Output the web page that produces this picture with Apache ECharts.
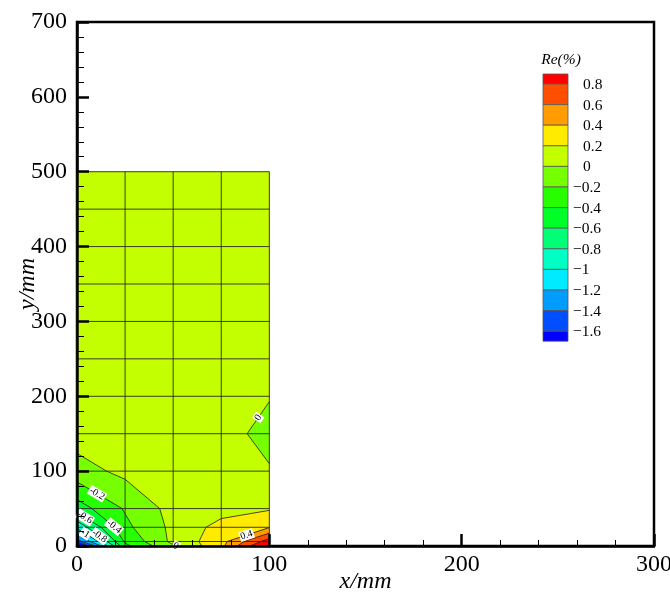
<!DOCTYPE html>
<html>
<head>
<meta charset="utf-8">
<script src="https://cdn.jsdelivr.net/npm/echarts@6/dist/echarts.min.js"></script>
<style>
  html, body { margin: 0; padding: 0; background: #fff; }
  #chart { width: 670px; height: 594px; }
</style>
</head>
<body>
<div id="chart"></div>
<script>
// Mesh node coordinates (mm)
const meshX = [0, 25, 50, 75, 100];
const meshY = [0, 6, 25, 50, 100, 150, 200, 250, 300, 350, 400, 450, 500];

// Re(%) at the mesh nodes, one row per meshY entry, columns follow meshX
const reY0   = [-2.0, -0.45, -0.02, 0.35, 1.10];
const reY6   = [-1.5, -0.37, 0.05, 0.33, 0.90];
const reY25  = [-0.95, -0.25, 0.05, 0.27, 0.39];
const reY50  = [-0.50, -0.18, 0.07, 0.12, 0.18];
const reY100 = [-0.08, 0.05, 0.10, 0.10, 0.015];
const reY150 = [0.088, 0.10, 0.10, 0.07, -0.06];
const reY200 = [0.10, 0.10, 0.10, 0.10, 0.01];
const reY250 = [0.10, 0.10, 0.10, 0.10, 0.09];
const reY300 = [0.10, 0.10, 0.10, 0.10, 0.10];
const reY350 = [0.10, 0.10, 0.10, 0.10, 0.10];
const reY400 = [0.10, 0.10, 0.10, 0.10, 0.10];
const reY450 = [0.10, 0.10, 0.10, 0.10, 0.10];
const reY500 = [0.10, 0.10, 0.10, 0.10, 0.10];
const reRows = [reY0, reY6, reY25, reY50, reY100, reY150, reY200,
                reY250, reY300, reY350, reY400, reY450, reY500];

// Contour levels and the fill colour of each band between them
const levels = [-1.6, -1.4, -1.2, -1, -0.8, -0.6, -0.4, -0.2, 0, 0.2, 0.4, 0.6, 0.8];
const bandColors = ['#0000ff', '#004eff', '#009dff', '#00ebff', '#00ffc4', '#00ff76',
                    '#00ff27', '#27ff00', '#76ff00', '#c4ff00', '#ffeb00', '#ff9d00',
                    '#ff4e00', '#ff0000'];

// Axis ticks
const xTicks = [0, 100, 200, 300];
const yTicks = [0, 100, 200, 300, 400, 500, 600, 700];

// Contour labels: which level, and roughly where along the line to put it
const contourLabels = [
  { level: -0.2, near: [10, 68] },
  { level: -0.6, near: [5, 42] },
  { level: -0.4, near: [20, 28] },
  { level: -0.8, near: [12, 14] },
  { level: -1,   near: [4.5, 17] },
  { level: 0,    near: [52, 2] },
  { level: 0.4,  near: [88, 16] },
  { level: 0,    near: [94, 172] }
];

const serif = '"Liberation Serif", "Times New Roman", serif';

// ---- geometry helpers ----
function cellPoly(i, j) {
  return [
    { x: meshX[i],     y: meshY[j],     v: reRows[j][i] },
    { x: meshX[i + 1], y: meshY[j],     v: reRows[j][i + 1] },
    { x: meshX[i + 1], y: meshY[j + 1], v: reRows[j + 1][i + 1] },
    { x: meshX[i],     y: meshY[j + 1], v: reRows[j + 1][i] }
  ];
}

// Sutherland–Hodgman clip against keep(v) >= 0, linear along the edges
function clipPoly(poly, keep) {
  const out = [];
  for (let k = 0; k < poly.length; k++) {
    const a = poly[k], b = poly[(k + 1) % poly.length];
    const fa = keep(a.v), fb = keep(b.v);
    if (fa >= 0) out.push(a);
    if ((fa >= 0) !== (fb >= 0)) {
      const t = fa / (fa - fb);
      out.push({ x: a.x + t * (b.x - a.x), y: a.y + t * (b.y - a.y), v: a.v + t * (b.v - a.v) });
    }
  }
  return out;
}

function cellSegments(poly, L) {
  const pts = [];
  for (let k = 0; k < 4; k++) {
    const a = poly[k], b = poly[(k + 1) % 4];
    if ((a.v >= L) !== (b.v >= L)) {
      const t = (L - a.v) / (b.v - a.v);
      pts.push([a.x + t * (b.x - a.x), a.y + t * (b.y - a.y)]);
    }
  }
  const segs = [];
  for (let k = 0; k + 1 < pts.length; k += 2) segs.push([pts[k], pts[k + 1]]);
  return segs;
}

// cells
const cells = [];
for (let j = 0; j < meshY.length - 1; j++)
  for (let i = 0; i < meshX.length - 1; i++) cells.push([i, j]);

// contour segments per level
const contourSegs = [];      // [x1, y1, x2, y2, levelIndex]
const segsByLevel = levels.map(() => []);
cells.forEach(([i, j]) => {
  const poly = cellPoly(i, j);
  levels.forEach((L, li) => {
    cellSegments(poly, L).forEach(s => {
      contourSegs.push([s[0][0], s[0][1], s[1][0], s[1][1], li]);
      segsByLevel[li].push(s);
    });
  });
});

// mesh lines
const meshLines = [];
meshY.forEach(y => meshLines.push([meshX[0], y, meshX[meshX.length - 1], y]));
meshX.forEach(x => meshLines.push([x, meshY[0], x, meshY[meshY.length - 1]]));

function fmtLevel(v) {
  return String(Math.round(v * 10) / 10);
}

// ---- colour legend drawn as graphic elements ----
const legLeft = 543, legTop = 74, legW = 25, endH = 10, midH = 20.6;
const legendEls = [];
const nb = bandColors.length;
let yCursor = legTop;
for (let b = nb - 1; b >= 0; b--) {
  const h = (b === nb - 1 || b === 0) ? endH : midH;
  legendEls.push({
    type: 'rect',
    shape: { x: legLeft, y: yCursor, width: legW, height: h },
    style: { fill: bandColors[b], stroke: '#555', lineWidth: 0.8 }
  });
  if (b > 0) {
    const v = levels[b - 1];
    const s = fmtLevel(Math.abs(v));
    legendEls.push({
      type: 'text',
      x: v < 0 ? 573 : 583,
      y: yCursor + h + 1,
      style: {
        text: (v < 0 ? '\u2212' : '') + s,
        fill: '#000', fontSize: 15.5, fontFamily: serif,
        align: 'left', verticalAlign: 'middle'
      }
    });
  }
  yCursor += h;
}
legendEls.push({
  type: 'text', x: 561, y: 60,
  style: { text: 'Re(%)', fill: '#000', fontSize: 15.5, fontFamily: serif,
           fontStyle: 'italic', align: 'center', verticalAlign: 'middle' }
});

const option = {
  animation: false,
  backgroundColor: '#fff',
  grid: { left: 77, right: 16, top: 22, bottom: 48, show: true, outerBoundsMode: 'none',
          containLabel: false,
          borderColor: '#000', borderWidth: 2.5, backgroundColor: 'transparent' },
  xAxis: {
    type: 'value', min: xTicks[0], max: xTicks[xTicks.length - 1],
    interval: xTicks[1] - xTicks[0], z: 10,
    axisLine: { show: true, onZero: false, lineStyle: { color: '#000', width: 2.5 } },
    axisTick: { show: true, inside: true, length: 12, lineStyle: { color: '#000', width: 2.5 } },
    minorTick: { show: true, splitNumber: 5, length: 6, lineStyle: { color: '#000', width: 1 } },
    splitLine: { show: false },
    axisLabel: { color: '#000', fontFamily: serif, fontSize: 24, margin: 7 },
    name: 'x/mm', nameLocation: 'middle', nameGap: 24, nameMoveOverlap: false,
    nameTextStyle: { color: '#000', fontFamily: serif, fontStyle: 'italic', fontSize: 24 }
  },
  yAxis: {
    type: 'value', min: yTicks[0], max: yTicks[yTicks.length - 1],
    interval: yTicks[1] - yTicks[0], z: 10,
    axisLine: { show: true, onZero: false, lineStyle: { color: '#000', width: 2.5 } },
    axisTick: { show: true, inside: true, length: 12, lineStyle: { color: '#000', width: 2.5 } },
    minorTick: { show: true, splitNumber: 5, length: 7, lineStyle: { color: '#000', width: 1 } },
    splitLine: { show: false },
    axisLabel: { color: '#000', fontFamily: serif, fontSize: 24, margin: 10 },
    name: 'y/mm', nameLocation: 'middle', nameGap: 37, nameMoveOverlap: false,
    nameTextStyle: { color: '#000', fontFamily: serif, fontStyle: 'italic', fontSize: 24 }
  },
  graphic: { elements: legendEls },
  series: [
    {
      // filled contour bands, cell by cell
      type: 'custom', coordinateSystem: 'cartesian2d', z: 2, silent: true,
      data: cells,
      renderItem: function (params, api) {
        const [i, j] = cells[params.dataIndex];
        const poly = cellPoly(i, j);
        const children = [];
        for (let b = 0; b < nb; b++) {
          const lo = b === 0 ? -Infinity : levels[b - 1];
          const hi = b === nb - 1 ? Infinity : levels[b];
          let p = clipPoly(poly, v => v - lo);
          if (p.length < 3) continue;
          p = clipPoly(p, v => hi - v);
          if (p.length < 3) continue;
          children.push({
            type: 'polygon',
            shape: { points: p.map(q => api.coord([q.x, q.y])) },
            style: { fill: bandColors[b], stroke: bandColors[b], lineWidth: 0.6 }
          });
        }
        return { type: 'group', children };
      }
    },
    {
      // contour lines
      type: 'custom', coordinateSystem: 'cartesian2d', z: 3, silent: true,
      data: contourSegs,
      renderItem: function (params, api) {
        const a = api.coord([api.value(0), api.value(1)]);
        const b = api.coord([api.value(2), api.value(3)]);
        return { type: 'line', shape: { x1: a[0], y1: a[1], x2: b[0], y2: b[1] },
                 style: { stroke: '#1a1a1a', lineWidth: 0.8 } };
      }
    },
    {
      // mesh
      type: 'custom', coordinateSystem: 'cartesian2d', z: 4, silent: true,
      data: meshLines,
      renderItem: function (params, api) {
        const a = api.coord([api.value(0), api.value(1)]);
        const b = api.coord([api.value(2), api.value(3)]);
        return { type: 'line', shape: { x1: a[0], y1: a[1], x2: b[0], y2: b[1] },
                 style: { stroke: '#2a2a2a', lineWidth: 0.9 } };
      }
    },
    {
      // contour labels
      type: 'custom', coordinateSystem: 'cartesian2d', z: 5, silent: true,
      data: contourLabels.map(c => c.near),
      renderItem: function (params, api) {
        const spec = contourLabels[params.dataIndex];
        const li = levels.findIndex(L => Math.abs(L - spec.level) < 1e-9);
        const h = api.coord(spec.near);
        let best = null;
        segsByLevel[li].forEach(s => {
          const p = api.coord(s[0]), q = api.coord(s[1]);
          const dx = q[0] - p[0], dy = q[1] - p[1];
          const len2 = dx * dx + dy * dy || 1;
          let t = ((h[0] - p[0]) * dx + (h[1] - p[1]) * dy) / len2;
          t = Math.max(0, Math.min(1, t));
          const cx = p[0] + t * dx, cy = p[1] + t * dy;
          const d = (cx - h[0]) ** 2 + (cy - h[1]) ** 2;
          if (!best || d < best.d) best = { d, cx, cy, dx, dy };
        });
        if (!best) return null;
        let ang = Math.atan2(best.dy, best.dx);
        if (ang > Math.PI / 2) ang -= Math.PI;
        if (ang < -Math.PI / 2) ang += Math.PI;
        return {
          type: 'text', x: best.cx, y: best.cy, rotation: -ang,
          style: {
            text: fmtLevel(spec.level), fill: '#000', fontSize: 10, fontFamily: serif,
            align: 'center', verticalAlign: 'middle',
            backgroundColor: '#fff', padding: [0, 1]
          }
        };
      }
    }
  ]
};

const chart = echarts.init(document.getElementById('chart'), null, { renderer: 'canvas' });
chart.setOption(option);
</script>
</body>
</html>
